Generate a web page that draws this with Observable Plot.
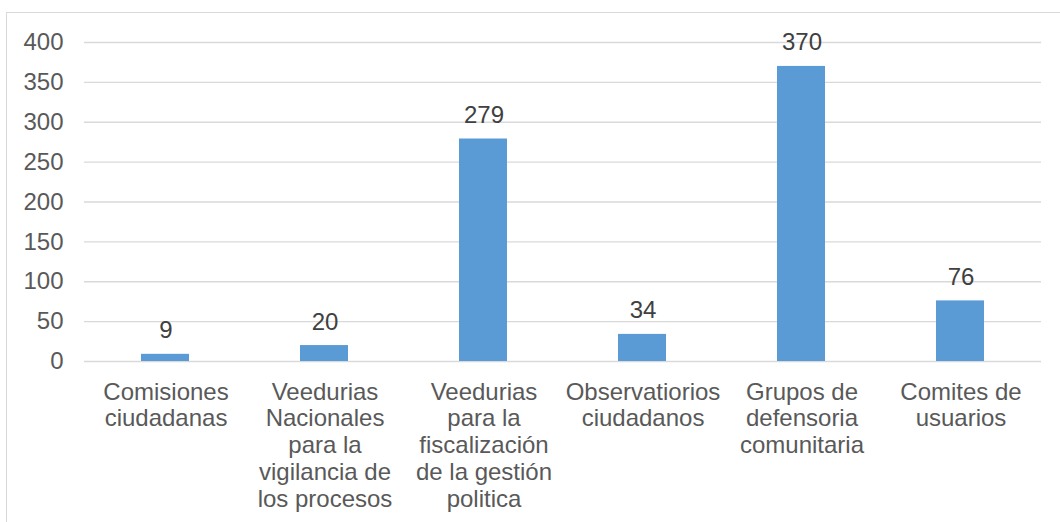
<!DOCTYPE html>
<html><head><meta charset="utf-8">
<script src="https://cdn.jsdelivr.net/npm/d3@7"></script>
<script src="https://cdn.jsdelivr.net/npm/@observablehq/plot@0.6"></script>
<style>
body{margin:0;overflow:hidden;background:#fff}
#frame{position:absolute;left:6px;top:12px;width:1100px;height:600px;border:1.5px solid #d9d9d9;}
#chart{position:absolute;left:0;top:0}
</style></head><body>
<div id="frame"></div><div id="chart"></div>
<script>
const categories = [
  "Comisiones\nciudadanas",
  "Veedurias\nNacionales\npara la\nvigilancia de\nlos procesos",
  "Veedurias\npara la\nfiscalización\nde la gestión\npolitica",
  "Observatiorios\nciudadanos",
  "Grupos de\ndefensoria\ncomunitaria",
  "Comites de\nusuarios"
];
const values = [9, 20, 279, 34, 370, 76];
const yTicks = [0, 50, 100, 150, 200, 250, 300, 350, 400];

const data = categories.map((c, i) => ({category: c, value: values[i]}));

const chart = Plot.plot({
  width: 1060, height: 522,
  marginLeft: 84, marginRight: 19, marginTop: 42, marginBottom: 161,
  style: {fontFamily: "'Liberation Sans', Arial, sans-serif", fontSize: "24px", color: "#595959", background: "transparent"},
  x: {domain: categories, padding: 0, axis: null},
  y: {domain: [0, 400], axis: null},
  marks: [
    Plot.gridY(yTicks, {stroke: "#d9d9d9", strokeOpacity: 1, strokeWidth: 1.3}),
    Plot.axisY(yTicks, {tickSize: 0, tickPadding: 21, fontSize: 24, fill: "#595959", label: null}),
    Plot.barY(data, {x: "category", y: "value", fill: "#5B9BD5", insetLeft: 55, insetRight: 56}),
    Plot.text(data, {x: "category", y: "value", text: d => String(d.value), lineAnchor: "bottom", dy: -16, fontSize: 24, fill: "#404040"}),
    Plot.text(data, {x: "category", y: () => 0, text: "category", lineAnchor: "top", dy: 19, lineHeight: 1.12, fontSize: 24, fill: "#595959"})
  ]
});
document.getElementById("chart").appendChild(chart);
</script>
</body></html>
